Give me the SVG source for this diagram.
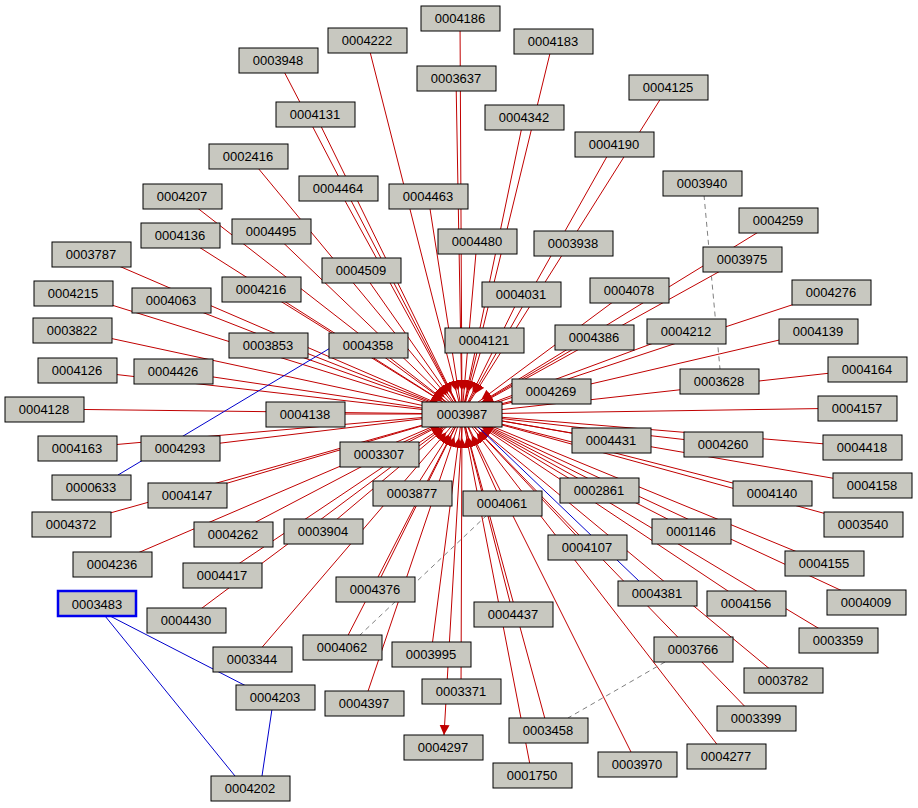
<svg xmlns="http://www.w3.org/2000/svg" width="918" height="808" viewBox="0 0 918 808">
<style>
.n rect{fill:#c8c8c0;stroke:#000;stroke-width:1}
.n text{font-family:"Liberation Sans",Arial,sans-serif;font-size:13px;text-anchor:middle;dominant-baseline:central;fill:#000}
.r{stroke:#c00000;stroke-width:1;fill:none}
.b{stroke:#0000cc;stroke-width:1;fill:none}
.g{stroke:#808080;stroke-width:1;stroke-dasharray:5,4;fill:none}
</style>
<defs>
<marker id="a" markerUnits="userSpaceOnUse" markerWidth="60" markerHeight="20" refX="34" refY="5" orient="auto"><path d="M0,0L10,5L0,10z" fill="#c00000"/></marker>
<marker id="t" markerUnits="userSpaceOnUse" markerWidth="12" markerHeight="12" refX="10" refY="5" orient="auto"><path d="M0,0L10,5L0,10z" fill="#c00000"/></marker>
</defs>
<g id="edges">
<g class="r" marker-end="url(#a)">
<path d="M460,18L462,414"/><path d="M367,40L462,414"/><path d="M553,41L462,414"/><path d="M278,60L462,414"/>
<path d="M456,78L462,414"/><path d="M668,87L462,414"/><path d="M315,114L462,414"/><path d="M524,117L462,414"/>
<path d="M614,144L462,414"/><path d="M248,156L462,414"/><path d="M182,196L462,414"/><path d="M338,188L462,414"/>
<path d="M428,196L462,414"/><path d="M778,220L462,414"/><path d="M180,235L462,414"/><path d="M271,231L462,414"/>
<path d="M477,241L462,414"/><path d="M91,254L462,414"/><path d="M742,259L462,414"/><path d="M361,270L462,414"/>
<path d="M261,289L462,414"/><path d="M521,294L462,414"/><path d="M629,290L462,414"/><path d="M831,292L462,414"/>
<path d="M73,293L462,414"/><path d="M171,300L462,414"/><path d="M72,330L462,414"/><path d="M686,331L462,414"/>
<path d="M818,331L462,414"/><path d="M484,340L462,414"/><path d="M594,337L462,414"/><path d="M268,345L462,414"/>
<path d="M368,345L462,414"/><path d="M77,370L462,414"/><path d="M173,371L462,414"/><path d="M867,369L462,414"/>
<path d="M551,391L462,414"/><path d="M44,409L462,414"/><path d="M305,414L462,414"/><path d="M857,408L462,414"/>
<path d="M611,440L462,414"/><path d="M723,444L462,414"/><path d="M862,447L462,414"/><path d="M77,448L462,414"/>
<path d="M180,448L462,414"/><path d="M379,454L462,414"/><path d="M872,485L462,414"/><path d="M772,493L462,414"/>
<path d="M599,490L462,414"/><path d="M412,493L462,414"/><path d="M502,503L462,414"/><path d="M187,495L462,414"/>
<path d="M71,524L462,414"/><path d="M863,524L462,414"/><path d="M233,534L462,414"/><path d="M323,531L462,414"/>
<path d="M691,531L462,414"/><path d="M587,547L462,414"/><path d="M112,564L462,414"/><path d="M824,563L462,414"/>
<path d="M222,575L462,414"/><path d="M375,589L462,414"/><path d="M866,602L462,414"/><path d="M746,603L462,414"/>
<path d="M186,620L462,414"/><path d="M513,614L462,414"/><path d="M838,640L462,414"/><path d="M342,647L462,414"/>
<path d="M431,654L462,414"/><path d="M252,659L462,414"/><path d="M783,680L462,414"/><path d="M461,691L462,414"/>
<path d="M364,703L462,414"/><path d="M756,718L462,414"/><path d="M548,730L462,414"/><path d="M726,756L462,414"/>
<path d="M532,775L462,414"/><path d="M637,764L462,414"/>
</g>
<path class="r" d="M462,426L444,735" marker-end="url(#t)"/>
<path class="b" d="M478,427L640,582"/>
<path class="b" d="M118,475L352,335"/>
<path class="b" d="M110,616L250,688"/><path class="b" d="M105,616L235,776"/><path class="b" d="M272,709L262,776"/>
<path class="g" d="M704,195L720,369"/><path class="g" d="M487,515L360,635"/><path class="g" d="M665,662L568,718"/>
</g>
<g class="n">
<g id="n0004186"><rect x="421" y="6" width="79" height="25"/><text x="460" y="18">0004186</text></g>
<g id="n0004222"><rect x="328" y="28" width="79" height="25"/><text x="367" y="40">0004222</text></g>
<g id="n0004183"><rect x="514" y="29" width="79" height="25"/><text x="553" y="41">0004183</text></g>
<g id="n0003948"><rect x="239" y="48" width="79" height="25"/><text x="278" y="60">0003948</text></g>
<g id="n0003637"><rect x="417" y="66" width="79" height="25"/><text x="456" y="78">0003637</text></g>
<g id="n0004125"><rect x="629" y="75" width="79" height="25"/><text x="668" y="87">0004125</text></g>
<g id="n0004131"><rect x="276" y="102" width="79" height="25"/><text x="315" y="114">0004131</text></g>
<g id="n0004342"><rect x="485" y="105" width="79" height="25"/><text x="524" y="117">0004342</text></g>
<g id="n0004190"><rect x="575" y="132" width="79" height="25"/><text x="614" y="144">0004190</text></g>
<g id="n0002416"><rect x="209" y="144" width="79" height="25"/><text x="248" y="156">0002416</text></g>
<g id="n0003940"><rect x="663" y="171" width="79" height="25"/><text x="702" y="183">0003940</text></g>
<g id="n0004207"><rect x="143" y="184" width="79" height="25"/><text x="182" y="196">0004207</text></g>
<g id="n0004464"><rect x="299" y="176" width="79" height="25"/><text x="338" y="188">0004464</text></g>
<g id="n0004463"><rect x="389" y="184" width="79" height="25"/><text x="428" y="196">0004463</text></g>
<g id="n0004259"><rect x="739" y="208" width="79" height="25"/><text x="778" y="220">0004259</text></g>
<g id="n0004136"><rect x="141" y="223" width="79" height="25"/><text x="180" y="235">0004136</text></g>
<g id="n0004495"><rect x="232" y="219" width="79" height="25"/><text x="271" y="231">0004495</text></g>
<g id="n0004480"><rect x="438" y="229" width="79" height="25"/><text x="477" y="241">0004480</text></g>
<g id="n0003938"><rect x="534" y="231" width="79" height="25"/><text x="573" y="243">0003938</text></g>
<g id="n0003787"><rect x="52" y="242" width="79" height="25"/><text x="91" y="254">0003787</text></g>
<g id="n0003975"><rect x="703" y="247" width="79" height="25"/><text x="742" y="259">0003975</text></g>
<g id="n0004509"><rect x="322" y="258" width="79" height="25"/><text x="361" y="270">0004509</text></g>
<g id="n0004216"><rect x="222" y="277" width="79" height="25"/><text x="261" y="289">0004216</text></g>
<g id="n0004031"><rect x="482" y="282" width="79" height="25"/><text x="521" y="294">0004031</text></g>
<g id="n0004078"><rect x="590" y="278" width="79" height="25"/><text x="629" y="290">0004078</text></g>
<g id="n0004276"><rect x="792" y="280" width="79" height="25"/><text x="831" y="292">0004276</text></g>
<g id="n0004215"><rect x="34" y="281" width="79" height="25"/><text x="73" y="293">0004215</text></g>
<g id="n0004063"><rect x="132" y="288" width="79" height="25"/><text x="171" y="300">0004063</text></g>
<g id="n0003822"><rect x="33" y="318" width="79" height="25"/><text x="72" y="330">0003822</text></g>
<g id="n0004212"><rect x="647" y="319" width="79" height="25"/><text x="686" y="331">0004212</text></g>
<g id="n0004139"><rect x="779" y="319" width="79" height="25"/><text x="818" y="331">0004139</text></g>
<g id="n0004121"><rect x="445" y="328" width="79" height="25"/><text x="484" y="340">0004121</text></g>
<g id="n0004386"><rect x="555" y="325" width="79" height="25"/><text x="594" y="337">0004386</text></g>
<g id="n0003853"><rect x="229" y="333" width="79" height="25"/><text x="268" y="345">0003853</text></g>
<g id="n0004358"><rect x="329" y="333" width="79" height="25"/><text x="368" y="345">0004358</text></g>
<g id="n0004126"><rect x="38" y="358" width="79" height="25"/><text x="77" y="370">0004126</text></g>
<g id="n0004426"><rect x="134" y="359" width="79" height="25"/><text x="173" y="371">0004426</text></g>
<g id="n0004164"><rect x="828" y="357" width="79" height="25"/><text x="867" y="369">0004164</text></g>
<g id="n0003628"><rect x="680" y="369" width="79" height="25"/><text x="719" y="381">0003628</text></g>
<g id="n0004269"><rect x="512" y="379" width="79" height="25"/><text x="551" y="391">0004269</text></g>
<g id="n0004128"><rect x="5" y="397" width="79" height="25"/><text x="44" y="409">0004128</text></g>
<g id="n0004138"><rect x="266" y="402" width="79" height="25"/><text x="305" y="414">0004138</text></g>
<g id="n0004157"><rect x="818" y="396" width="79" height="25"/><text x="857" y="408">0004157</text></g>
<g id="n0004431"><rect x="572" y="428" width="79" height="25"/><text x="611" y="440">0004431</text></g>
<g id="n0004260"><rect x="684" y="432" width="79" height="25"/><text x="723" y="444">0004260</text></g>
<g id="n0004418"><rect x="823" y="435" width="79" height="25"/><text x="862" y="447">0004418</text></g>
<g id="n0004163"><rect x="38" y="436" width="79" height="25"/><text x="77" y="448">0004163</text></g>
<g id="n0004293"><rect x="141" y="436" width="79" height="25"/><text x="180" y="448">0004293</text></g>
<g id="n0003307"><rect x="340" y="442" width="79" height="25"/><text x="379" y="454">0003307</text></g>
<g id="n0000633"><rect x="52" y="475" width="79" height="25"/><text x="91" y="487">0000633</text></g>
<g id="n0004158"><rect x="833" y="473" width="79" height="25"/><text x="872" y="485">0004158</text></g>
<g id="n0004140"><rect x="733" y="481" width="79" height="25"/><text x="772" y="493">0004140</text></g>
<g id="n0002861"><rect x="560" y="478" width="79" height="25"/><text x="599" y="490">0002861</text></g>
<g id="n0003877"><rect x="373" y="481" width="79" height="25"/><text x="412" y="493">0003877</text></g>
<g id="n0004061"><rect x="463" y="491" width="79" height="25"/><text x="502" y="503">0004061</text></g>
<g id="n0004147"><rect x="148" y="483" width="79" height="25"/><text x="187" y="495">0004147</text></g>
<g id="n0004372"><rect x="32" y="512" width="79" height="25"/><text x="71" y="524">0004372</text></g>
<g id="n0003540"><rect x="824" y="512" width="79" height="25"/><text x="863" y="524">0003540</text></g>
<g id="n0004262"><rect x="194" y="522" width="79" height="25"/><text x="233" y="534">0004262</text></g>
<g id="n0003904"><rect x="284" y="519" width="79" height="25"/><text x="323" y="531">0003904</text></g>
<g id="n0001146"><rect x="652" y="519" width="79" height="25"/><text x="691" y="531">0001146</text></g>
<g id="n0004107"><rect x="548" y="535" width="79" height="25"/><text x="587" y="547">0004107</text></g>
<g id="n0004236"><rect x="73" y="552" width="79" height="25"/><text x="112" y="564">0004236</text></g>
<g id="n0004155"><rect x="785" y="551" width="79" height="25"/><text x="824" y="563">0004155</text></g>
<g id="n0004417"><rect x="183" y="563" width="79" height="25"/><text x="222" y="575">0004417</text></g>
<g id="n0004376"><rect x="336" y="577" width="79" height="25"/><text x="375" y="589">0004376</text></g>
<g id="n0004381"><rect x="618" y="581" width="79" height="25"/><text x="657" y="593">0004381</text></g>
<g id="n0004009"><rect x="827" y="590" width="79" height="25"/><text x="866" y="602">0004009</text></g>
<g id="n0004156"><rect x="707" y="591" width="79" height="25"/><text x="746" y="603">0004156</text></g>
<g id="n0003483"><rect x="58" y="591" width="78" height="25" style="stroke:#0000ee;stroke-width:2.5"/><text x="97" y="604">0003483</text></g>
<g id="n0004430"><rect x="147" y="608" width="79" height="25"/><text x="186" y="620">0004430</text></g>
<g id="n0004437"><rect x="474" y="602" width="79" height="25"/><text x="513" y="614">0004437</text></g>
<g id="n0003359"><rect x="799" y="628" width="79" height="25"/><text x="838" y="640">0003359</text></g>
<g id="n0004062"><rect x="303" y="635" width="79" height="25"/><text x="342" y="647">0004062</text></g>
<g id="n0003995"><rect x="392" y="642" width="79" height="25"/><text x="431" y="654">0003995</text></g>
<g id="n0003766"><rect x="654" y="637" width="79" height="25"/><text x="693" y="649">0003766</text></g>
<g id="n0003344"><rect x="213" y="647" width="79" height="25"/><text x="252" y="659">0003344</text></g>
<g id="n0003782"><rect x="744" y="668" width="79" height="25"/><text x="783" y="680">0003782</text></g>
<g id="n0003371"><rect x="422" y="679" width="79" height="25"/><text x="461" y="691">0003371</text></g>
<g id="n0004203"><rect x="236" y="685" width="79" height="25"/><text x="275" y="697">0004203</text></g>
<g id="n0004397"><rect x="325" y="691" width="79" height="25"/><text x="364" y="703">0004397</text></g>
<g id="n0003399"><rect x="717" y="706" width="79" height="25"/><text x="756" y="718">0003399</text></g>
<g id="n0003458"><rect x="509" y="718" width="79" height="25"/><text x="548" y="730">0003458</text></g>
<g id="n0004297"><rect x="404" y="735" width="79" height="25"/><text x="443" y="747">0004297</text></g>
<g id="n0004277"><rect x="687" y="744" width="79" height="25"/><text x="726" y="756">0004277</text></g>
<g id="n0001750"><rect x="493" y="763" width="79" height="25"/><text x="532" y="775">0001750</text></g>
<g id="n0003970"><rect x="598" y="752" width="79" height="25"/><text x="637" y="764">0003970</text></g>
<g id="n0004202"><rect x="211" y="776" width="79" height="25"/><text x="250" y="788">0004202</text></g>
<g id="n0003987"><rect x="422" y="402" width="80" height="25"/><text x="462" y="414">0003987</text></g>
</g>
</svg>
